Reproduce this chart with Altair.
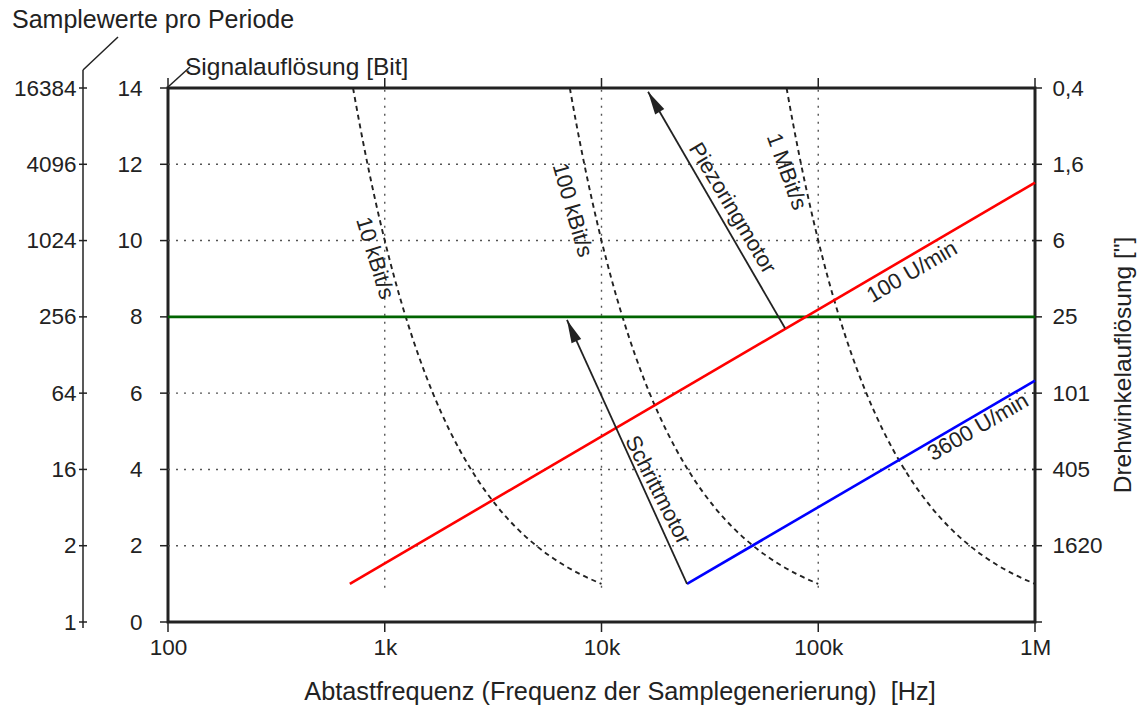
import json
import altair as alt
import pandas as pd

# ---------------- data ----------------
x_tick_values = [100, 1000, 10000, 100000, 1000000]
x_tick_labels = ["100", "1k", "10k", "100k", "1M"]
bit_ticks = [0, 2, 4, 6, 8, 10, 12, 14]
sample_labels = ["1", "2", "16", "64", "256", "1024", "4096", "16384"]
angle_labels = ["", "1620", "405", "101", "25", "6", "1,6", "0,4"]
grid_x = [1000, 10000, 100000]
grid_y = [2, 4, 6, 8, 10, 12]
grid_v_from = 0.9
grid_v_to = 14

# data-rate curves (bits vs. sample frequency)
rate10k_f = [714, 769, 833, 909, 1000, 1111, 1250, 1429, 1667, 2000, 2500, 3333, 4000, 5000, 6667, 8000, 10000]
rate10k_b = [14, 13, 12, 11, 10, 9, 8, 7, 6, 5, 4, 3, 2.5, 2, 1.5, 1.25, 1]
rate100k_f = [7143, 7692, 8333, 9091, 10000, 11111, 12500, 14286, 16667, 20000, 25000, 33333, 40000, 50000, 66667, 80000, 100000]
rate100k_b = [14, 13, 12, 11, 10, 9, 8, 7, 6, 5, 4, 3, 2.5, 2, 1.5, 1.25, 1]
rate1M_f = [71429, 76923, 83333, 90909, 100000, 111111, 125000, 142857, 166667, 200000, 250000, 333333, 400000, 500000, 666667, 800000, 1000000]
rate1M_b = [14, 13, 12, 11, 10, 9, 8, 7, 6, 5, 4, 3, 2.5, 2, 1.5, 1.25, 1]

# speed lines
rpm100_f = [690, 1000000]
rpm100_b = [1, 11.52]
rpm3600_f = [24800, 1000000]
rpm3600_b = [1, 6.33]
green_f = [100, 1000000]
green_b = [8, 8]

# arrows (tail -> tip)
arrow_names = ["Piezoringmotor", "Schrittmotor"]
arrow_tail_f = [70300, 24800]
arrow_tail_b = [7.7, 1.0]
arrow_tip_f = [16400, 6930]
arrow_tip_b = [13.9, 7.92]
arrow_angle = [329.7, 336.0]

# in-plot labels
label_text = ["10 kBit/s", "100 kBit/s", "1 MBit/s", "Piezoringmotor", "Schrittmotor", "100 U/min", "3600 U/min"]
label_f = [902, 7350, 71500, 40200, 18200, 270700, 546000]
label_b = [9.54, 10.80, 11.81, 10.85, 3.46, 9.18, 5.11]
label_angle = [73, 74, 70, 59, 63, 329.7, 329.7]

# ---------------- layout ----------------
W, H = 867, 534
FONT = "Liberation Sans"
INK = "#222222"
TICK_FS = 22.5
TITLE_FS = 24.5
LABEL_FS = 22

xscale = alt.Scale(type="log", domain=[100, 1000000], nice=False)
yscale = alt.Scale(domain=[0, 14], nice=False, zero=False)

x_axis = alt.Axis(
    values=x_tick_values,
    labelExpr=f"{json.dumps(x_tick_labels)}[indexof({json.dumps(x_tick_values)}, datum.value)]",
    ticks=False, domain=False, grid=False, title=None, tickSize=0,
    labelPadding=14, labelFlush=False, labelOverlap=False, labelFontSize=TICK_FS,
)
y_axis = alt.Axis(
    values=bit_ticks, ticks=False, domain=False, grid=False, title=None, tickSize=0,
    labelPadding=26, labelOverlap=False, labelFontSize=TICK_FS,
)


def X(field="f"):
    return alt.X(f"{field}:Q", scale=xscale, axis=x_axis)


def Y(field="b"):
    return alt.Y(f"{field}:Q", scale=yscale, axis=y_axis)


one = pd.DataFrame({"k": [0]})

# grid
grid_h = alt.Chart(pd.DataFrame({"b": grid_y})).mark_rule(
    color="#555555", strokeWidth=1.4, strokeDash=[2, 6]
).encode(y=Y(), x=alt.value(0), x2=alt.value(W))

grid_v = alt.Chart(pd.DataFrame({"f": grid_x, "b": [grid_v_from] * len(grid_x), "b2": [grid_v_to] * len(grid_x)})).mark_rule(
    color="#555555", strokeWidth=1.4, strokeDash=[2, 6]
).encode(x=X(), y=Y(), y2=alt.Y2("b2:Q"))

# ticks
tick_style = dict(color=INK, strokeWidth=1.5)
tick_df = pd.DataFrame({"b": bit_ticks})
xtick_df = pd.DataFrame({"f": x_tick_values})
left_ticks = alt.Chart(tick_df).mark_rule(**tick_style).encode(y=Y(), x=alt.value(-8), x2=alt.value(0))
outer_ticks = alt.Chart(tick_df).mark_rule(**tick_style).encode(y=Y(), x=alt.value(-89), x2=alt.value(-81))
right_ticks = alt.Chart(tick_df).mark_rule(**tick_style).encode(y=Y(), x=alt.value(W - 3), x2=alt.value(W + 7))
bottom_ticks = alt.Chart(xtick_df).mark_rule(**tick_style).encode(x=X(), y=alt.value(H), y2=alt.value(H + 10))
top_ticks = alt.Chart(xtick_df).mark_rule(**tick_style).encode(x=X(), y=alt.value(-10), y2=alt.value(0))

outer_domain = alt.Chart(one).mark_rule(**tick_style).encode(
    x=alt.value(-85), y=alt.value(-18), y2=alt.value(H + 6))
outer_diag = alt.Chart(one).mark_rule(**tick_style).encode(
    x=alt.value(-85), y=alt.value(-18), x2=alt.value(-50), y2=alt.value(-51))
inner_diag = alt.Chart(one).mark_rule(**tick_style).encode(
    x=alt.value(0), y=alt.value(-1), x2=alt.value(22), y2=alt.value(-21))

# curves
curve_df = pd.DataFrame({
    "f": rate10k_f + rate100k_f + rate1M_f,
    "b": rate10k_b + rate100k_b + rate1M_b,
    "c": ["10k"] * len(rate10k_f) + ["100k"] * len(rate100k_f) + ["1M"] * len(rate1M_f),
})
curves = alt.Chart(curve_df).mark_line(
    color=INK, strokeWidth=1.9, strokeDash=[5, 4], interpolate="monotone"
).encode(x=X(), y=Y(), detail="c:N")

red = alt.Chart(pd.DataFrame({"f": rpm100_f, "b": rpm100_b})).mark_line(
    color="#ff0000", strokeWidth=2.6).encode(x=X(), y=Y())
blue = alt.Chart(pd.DataFrame({"f": rpm3600_f, "b": rpm3600_b})).mark_line(
    color="#0000ff", strokeWidth=2.6).encode(x=X(), y=Y())
green = alt.Chart(pd.DataFrame({"f": green_f, "b": green_b})).mark_line(
    color="#006400", strokeWidth=2.6).encode(x=X(), y=Y())

# arrows
arrow_line_df = pd.DataFrame({
    "f": arrow_tail_f + arrow_tip_f,
    "b": arrow_tail_b + arrow_tip_b,
    "a": arrow_names + arrow_names,
})
arrow_lines = alt.Chart(arrow_line_df).mark_line(color=INK, strokeWidth=1.8).encode(
    x=X(), y=Y(), detail="a:N")
arrow_heads = alt.Chart(pd.DataFrame({"f": arrow_tip_f, "b": arrow_tip_b, "ang": arrow_angle})).mark_point(
    shape="M0,0L-0.5,2.2L0.5,2.2Z", filled=True, size=441, color=INK, opacity=1, strokeWidth=0
).encode(x=X(), y=Y(), angle=alt.Angle("ang:Q", scale=None))

# in-plot labels
labels = alt.Chart(pd.DataFrame({"f": label_f, "b": label_b, "t": label_text, "ang": label_angle})).mark_text(
    font=FONT, fontSize=LABEL_FS, color=INK, align="center", baseline="middle"
).encode(x=X(), y=Y(), text="t:N", angle=alt.Angle("ang:Q", scale=None))

# titles
def title_text(txt, x, y, align="left", angle=0, baseline="alphabetic", size=TITLE_FS):
    return alt.Chart(pd.DataFrame({"t": [txt]})).mark_text(
        font=FONT, fontSize=size, color=INK, align=align, baseline=baseline, angle=angle
    ).encode(x=alt.value(x), y=alt.value(y), text="t:N")

t_x = title_text("Abtastfrequenz (Frequenz der Samplegenerierung)\u00a0\u00a0[Hz]", 452, H + 78, align="center", size=25.3)
t_bit = title_text("Signalauflösung [Bit]", 17, -13)
t_sample = title_text("Samplewerte pro Periode", -156, -60, size=25)
t_right = title_text('Drehwinkelauflösung ["]', W + 89, H / 2 + 10, align="center", angle=270, baseline="middle")

main = alt.layer(
    grid_h, grid_v, left_ticks, outer_ticks, right_ticks, bottom_ticks, top_ticks,
    outer_domain, outer_diag, inner_diag,
    curves, green, red, blue, arrow_lines, arrow_heads, labels,
    t_x, t_bit, t_sample, t_right,
)

right_axis = alt.Chart(tick_df).mark_point(opacity=0).encode(
    y=alt.Y("b:Q", scale=alt.Scale(domain=[0, 14], nice=False, zero=False),
            axis=alt.Axis(orient="right", values=bit_ticks,
                          labelExpr=f"{json.dumps(angle_labels)}[indexof({json.dumps(bit_ticks)}, datum.value)]",
                          ticks=False, domain=False, grid=False, tickSize=0, title=None,
                          labelPadding=17, labelOverlap=False, labelFontSize=TICK_FS))
)
outer_axis = alt.Chart(tick_df).mark_point(opacity=0).encode(
    y=alt.Y("b:Q", scale=alt.Scale(domain=[0, 14], nice=False, zero=False),
            axis=alt.Axis(orient="left", offset=85, values=bit_ticks,
                          labelExpr=f"{json.dumps(sample_labels)}[indexof({json.dumps(bit_ticks)}, datum.value)]",
                          ticks=False, domain=False, grid=False, tickSize=0, title=None,
                          labelPadding=7, labelOverlap=False, labelFontSize=TICK_FS))
)

chart = alt.layer(main, right_axis, outer_axis).resolve_scale(y="independent").properties(
    width=W, height=H,
    autosize=alt.AutoSizeParams(type="none"),
    padding={"left": 168, "top": 88, "right": 108, "bottom": 84},
    background="white",
).configure_view(
    stroke=INK, strokeWidth=3
).configure_axis(
    labelFont=FONT, labelColor=INK, titleFont=FONT, titleColor=INK
)

chart.save("out.html", embed_options={"renderer": "svg", "actions": False})
